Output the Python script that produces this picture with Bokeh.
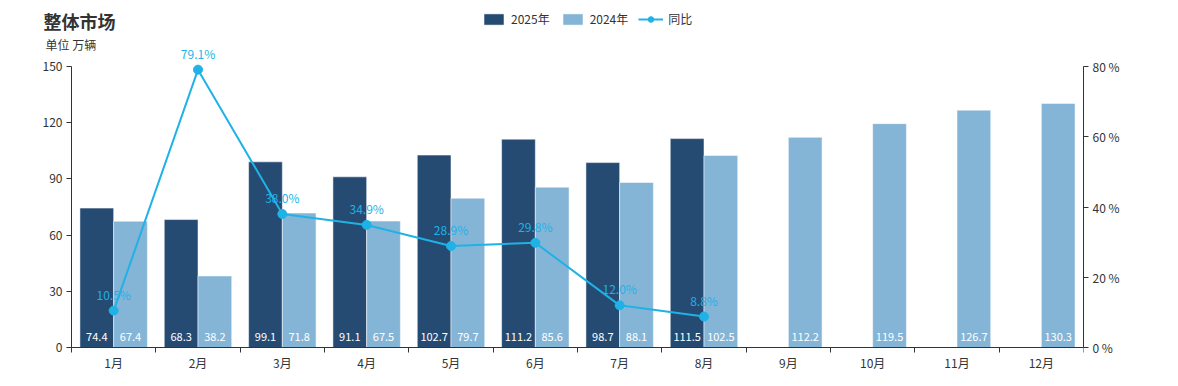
from bokeh.plotting import figure
from bokeh.models import (ColumnDataSource, Range1d, LinearAxis, FixedTicker,
                          PrintfTickFormatter, Legend, LegendItem, Label)
from bokeh.core.properties import value
from bokeh.embed import file_html
from bokeh.resources import INLINE

months = ["1月", "2月", "3月", "4月", "5月", "6月", "7月", "8月", "9月", "10月", "11月", "12月"]
sales_2025 = [74.4, 68.3, 99.1, 91.1, 102.7, 111.2, 98.7, 111.5]
sales_2024 = [67.4, 38.2, 71.8, 67.5, 79.7, 85.6, 88.1, 102.5, 112.2, 119.5, 126.7, 130.3]
yoy = [10.5, 79.1, 38.0, 34.9, 28.9, 29.8, 12.0, 8.8]
left_ticks = [0, 30, 60, 90, 120, 150]
right_ticks = [0, 20, 40, 60, 80]

FONT = "Noto Sans CJK SC"
C25 = "#264b73"
C24 = "#85b5d6"
CL = "#1fb2e6"
TXT = "#333333"

# pixel geometry of the frame (styling only)
FR_L, FR_T, AX_L, FR_R, AX_B, FR_B = 20, 4, 71, 1083, 347, 378
AX_TOP = 66
px_x = (FR_R - AX_L) / len(months)
px_y = (AX_B - AX_TOP) / left_ticks[-1]
px_p = (AX_B - AX_TOP) / right_ticks[-1]

centers = [i + 0.5 for i in range(len(months))]
src25 = ColumnDataSource(dict(x=[c - 0.2 for c in centers[:len(sales_2025)]], y=sales_2025,
                              t=[f"{v:.1f}" for v in sales_2025]))
src24 = ColumnDataSource(dict(x=[c + 0.2 for c in centers[:len(sales_2024)]], y=sales_2024,
                              t=[f"{v:.1f}" for v in sales_2024]))
srcl = ColumnDataSource(dict(x=centers[:len(yoy)], y=yoy, t=[f"{v:.1f}%" for v in yoy]))

p = figure(width=FR_R + 87, height=FR_B, output_backend="svg", toolbar_location=None,
           x_range=Range1d(-(AX_L - FR_L) / px_x, len(months)),
           y_range=Range1d(-(FR_B - AX_B) / px_y, (AX_B - FR_T) / px_y),
           min_border_left=FR_L, min_border_right=87, min_border_top=FR_T, min_border_bottom=0,
           y_axis_location=None)
p.extra_y_ranges = {"pct": Range1d(-(FR_B - AX_B) / px_p, (AX_B - FR_T) / px_p)}
p.outline_line_color = None
p.xgrid.visible = False
p.ygrid.visible = False

r25 = p.vbar(x="x", top="y", bottom=0, width=0.4, source=src25, fill_color=C25,
             line_color="white", line_alpha=0.5, line_width=1)
r24 = p.vbar(x="x", top="y", bottom=0, width=0.4, source=src24, fill_color=C24,
             line_color="white", line_alpha=0.5, line_width=1)
for s in (src25, src24):
    p.text(x="x", y=0, text="t", source=s, text_color="white", text_font=value(FONT),
           text_font_size="11px", text_font_style="normal", text_align="center",
           text_baseline="middle", y_offset=-11)

rl = p.line(x="x", y="y", source=srcl, y_range_name="pct", line_color=CL, line_width=2)
rc = p.scatter(x="x", y="y", source=srcl, y_range_name="pct", size=9, fill_color=CL, line_color=CL)
p.text(x="x", y="y", text="t", source=srcl, y_range_name="pct", text_color=CL,
       text_font=value(FONT), text_font_size="12px", text_align="center",
       text_baseline="bottom", y_offset=-8)

# axes
xa = p.xaxis[0]
xa.fixed_location = 0
xa.ticker = FixedTicker(ticks=centers, minor_ticks=list(range(len(months) + 1)))
xa.major_label_overrides = {c: m for c, m in zip(centers, months)}
xa.bounds = (0, len(months))
xa.major_tick_out = 0
xa.major_tick_in = 0
xa.minor_tick_out = 5
xa.minor_tick_in = 0
xa.minor_tick_line_color = TXT
xa.major_label_standoff = 1

ya = LinearAxis(ticker=FixedTicker(ticks=left_ticks), fixed_location=0,
                bounds=(0, left_ticks[-1]))
p.add_layout(ya, "left")
ra = LinearAxis(y_range_name="pct", ticker=FixedTicker(ticks=right_ticks),
                formatter=PrintfTickFormatter(format="%d %%"), bounds=(0, right_ticks[-1]))
p.add_layout(ra, "right")
for ax in (ya, ra):
    ax.major_tick_out = 5
    ax.major_tick_in = 0
    ax.minor_tick_out = 0
    ax.minor_tick_in = 0
    ax.major_label_standoff = 4
for ax in (xa, ya, ra):
    ax.axis_line_color = TXT
    ax.major_tick_line_color = TXT
    ax.major_label_text_color = TXT
    ax.major_label_text_font = FONT
    ax.major_label_text_font_size = "12px"

title = Label(x=43 - FR_L, y=FR_B - 20, x_units="screen", y_units="screen", text="整体市场",
              text_font=FONT, text_font_size="18px", text_font_style="bold", text_color=TXT,
              text_baseline="middle")
unit = Label(x=45 - FR_L, y=FR_B - 44, x_units="screen", y_units="screen", text="单位 万辆",
             text_font=FONT, text_font_size="12px", text_color=TXT, text_baseline="middle")
p.add_layout(title)
p.add_layout(unit)

legend = Legend(items=[LegendItem(label="2025年", renderers=[r25]),
                       LegendItem(label="2024年", renderers=[r24]),
                       LegendItem(label="同比", renderers=[rl, rc])],
                orientation="horizontal", location=(481 - FR_L, FR_B - 27),
                glyph_width=25, glyph_height=14, label_text_font=FONT,
                label_text_font_size="12px", label_text_color=TXT,
                background_fill_alpha=0, border_line_color=None,
                spacing=10, label_standoff=5, padding=0, margin=0)
p.add_layout(legend)

open("out.html", "w").write(file_html(p, INLINE))
